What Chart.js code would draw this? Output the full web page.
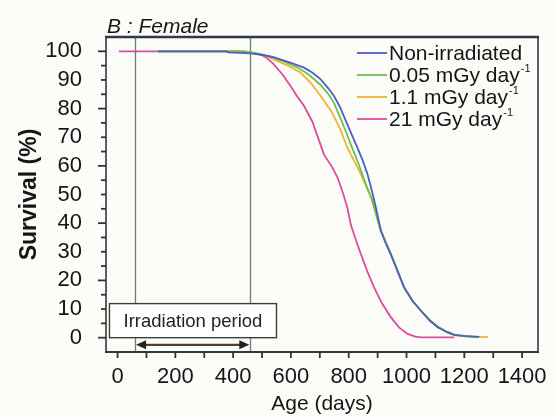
<!DOCTYPE html>
<html>
<head>
<meta charset="utf-8">
<script src="https://cdn.jsdelivr.net/npm/chart.js@4/dist/chart.umd.min.js"></script>
<style>
  html, body { margin: 0; padding: 0; background: #fcfdf9; }
  #wrap { width: 555px; height: 417px; }
</style>
</head>
<body>
<div id="wrap"><canvas id="SurvivalBox"></canvas></div>
<script>
// survival (%) against age (days)
const nonIrradiated = [[140,100],[378,100],[382,99.6],[460,99.3],[500,98.8],[540,98],[563,97.2],[600,96],[645,94.3],[675,92.5],[703,90.2],[730,87],[749,84.4],[770,80.5],[790,75.7],[810,71],[830,66.4],[848,62],[865,57.1],[882,50.5],[895,45],[911,37.5],[928,33],[946,29],[970,23],[992,17.5],[1020,13],[1050,9.4],[1080,6],[1109,3.6],[1140,2],[1166,1],[1200,0.6],[1252,0.3]];
const low005 = [[140,100],[440,100],[470,99.5],[500,98.8],[540,97.8],[580,96.3],[620,94.5],[660,92],[700,88.5],[730,85],[749,82],[772,76.5],[790,72],[807,67.5],[833,61],[859,53.6],[882,48],[900,41],[911,37.3],[946,29.2],[970,23.2],[992,17.5],[1020,13],[1050,9.4],[1080,6.2],[1109,3.8],[1140,2],[1166,1],[1210,0.4],[1250,0.2]];
const mid11 = [[140,100],[440,100],[470,99.3],[510,98.5],[540,97.2],[590,95],[633,92.6],[670,88.8],[703,84.4],[740,79],[770,73],[795,66.4],[820,61.5],[842,57.1],[877,49],[895,43],[911,37.3],[946,29.2],[970,23],[992,17.5],[1020,12.8],[1050,9.4],[1080,6],[1109,3.6],[1140,1.8],[1166,0.8],[1230,0.4],[1282,0.2]];
const high21 = [[5,100],[420,100],[460,99.5],[494,99],[515,97.8],[540,95.5],[570,92],[598,88],[620,84.5],[645,81],[674,75.5],[695,69.5],[714,64],[740,60],[761,56],[780,50.5],[795,45.5],[807,39.5],[825,34],[842,29.2],[865,23],[888,17.5],[915,12],[946,7.1],[975,3.5],[1004,1.3],[1030,0.4],[1050,0.1],[1165,0.1]];

const seriesLabels = ['Non-irradiated', '0.05 mGy day⁻¹', '1.1 mGy day⁻¹', '21 mGy day⁻¹'];
const seriesColors = ['#4b5fc4', '#6cc04c', '#f2b233', '#d94c9e'];

const xTicks = [0,100,200,300,400,500,600,700,800,900,1000,1100,1200,1300,1400];
const xLabels = [0,200,400,600,800,1000,1200,1400];
const yTicks = [0,5,10,15,20,25,30,35,40,45,50,55,60,65,70,75,80,85,90,95,100];
const yLabels = [0,10,20,30,40,50,60,70,80,90,100];
const irradiationPeriod = [60, 460];

const FONT = '"Liberation Sans", Arial, sans-serif';
const toPoints = arr => arr.map(p => ({x: p[0], y: p[1]}));

const SurvivalData = {
    datasets: [nonIrradiated, low005, mid11, high21].map((d, i) => ({
        label: seriesLabels[i],
        data: toPoints(d),
        borderColor: seriesColors[i],
        backgroundColor: seriesColors[i],
        borderWidth: 1.8,
        pointRadius: 0,
        tension: 0
    }))
};

// frame, tick marks, irradiation marks, legend and panel title
const decorations = {
    id: 'decorations',
    beforeDatasetsDraw(chart) {
        const {ctx, chartArea: a, scales: {x}} = chart;
        ctx.save();
        ctx.strokeStyle = '#6e7d68';
        ctx.lineWidth = 1.3;
        irradiationPeriod.forEach(d => {
            const px = Math.round(x.getPixelForValue(d)) + 0.5;
            ctx.beginPath(); ctx.moveTo(px, a.top); ctx.lineTo(px, a.bottom); ctx.stroke();
        });
        ctx.restore();
    },
    afterDraw(chart) {
        const {ctx, chartArea: a, scales: {x, y}} = chart;
        ctx.save();
        // frame
        ctx.strokeStyle = '#2f3b3f';
        ctx.lineWidth = 1.6;
        ctx.strokeRect(a.left, a.top, a.right - a.left, a.bottom - a.top);
        ctx.strokeStyle = '#2c3a4c';
        ctx.lineWidth = 2.6;
        ctx.beginPath(); ctx.moveTo(a.left - 1, a.top); ctx.lineTo(a.right + 1, a.top); ctx.stroke();
        ctx.lineWidth = 2;
        ctx.beginPath(); ctx.moveTo(a.left - 1, a.bottom); ctx.lineTo(a.right + 1, a.bottom); ctx.stroke();

        // tick marks
        ctx.strokeStyle = '#333';
        ctx.lineWidth = 1.8;
        yTicks.forEach(v => {
            const py = y.getPixelForValue(v);
            const len = v % 20 === 0 ? 8 : 5;
            ctx.beginPath(); ctx.moveTo(a.left - len, py); ctx.lineTo(a.left, py); ctx.stroke();
        });
        xTicks.forEach(v => {
            const px = x.getPixelForValue(v);
            ctx.beginPath(); ctx.moveTo(px, a.bottom); ctx.lineTo(px, a.bottom + 6); ctx.stroke();
        });

        // irradiation period box
        const bx0 = x.getPixelForValue(-28), bx1 = x.getPixelForValue(550);
        const by0 = y.getPixelForValue(11.9), by1 = y.getPixelForValue(0);
        ctx.fillStyle = '#ffffff';
        ctx.fillRect(bx0, by0, bx1 - bx0, by1 - by0);
        ctx.strokeStyle = '#3a3f38';
        ctx.lineWidth = 1.4;
        ctx.strokeRect(bx0, by0, bx1 - bx0, by1 - by0);
        ctx.fillStyle = '#222';
        ctx.font = '18.5px ' + FONT;
        ctx.textAlign = 'center';
        ctx.textBaseline = 'middle';
        ctx.fillText('Irradiation period', (bx0 + bx1) / 2, (by0 + by1) / 2 + 1);

        // double arrow
        const ay = y.getPixelForValue(-2.5);
        const ax0 = x.getPixelForValue(irradiationPeriod[0] + 4), ax1 = x.getPixelForValue(irradiationPeriod[1] - 4);
        ctx.strokeStyle = '#4a4030';
        ctx.lineWidth = 2.2;
        ctx.beginPath(); ctx.moveTo(ax0 + 6, ay); ctx.lineTo(ax1 - 6, ay); ctx.stroke();
        ctx.fillStyle = '#222';
        ctx.beginPath(); ctx.moveTo(ax0, ay); ctx.lineTo(ax0 + 10, ay - 4.5); ctx.lineTo(ax0 + 10, ay + 4.5); ctx.closePath(); ctx.fill();
        ctx.beginPath(); ctx.moveTo(ax1, ay); ctx.lineTo(ax1 - 10, ay - 4.5); ctx.lineTo(ax1 - 10, ay + 4.5); ctx.closePath(); ctx.fill();

        // legend
        ctx.textAlign = 'left';
        ctx.textBaseline = 'middle';
        chart.data.datasets.forEach((ds, i) => {
            const ly = 53 + i * 22;
            ctx.strokeStyle = ds.borderColor;
            ctx.lineWidth = 1.8;
            ctx.beginPath(); ctx.moveTo(357, ly); ctx.lineTo(387, ly); ctx.stroke();
            let base = ds.label, sup = '';
            if (base.endsWith('⁻¹')) { base = base.slice(0, -2); sup = '-1'; }
            ctx.fillStyle = '#151515';
            ctx.font = '21px ' + FONT;
            ctx.fillText(base, 389, ly + 1);
            if (sup) {
                const w = ctx.measureText(base).width;
                ctx.font = '11px ' + FONT;
                ctx.fillText(sup, 389 + w + 1, ly - 6);
            }
        });

        // panel title
        ctx.fillStyle = '#151515';
        ctx.font = 'italic 21px ' + FONT;
        ctx.textBaseline = 'alphabetic';
        ctx.fillText('B : Female', a.left + 1, a.top - 4);
        ctx.restore();
    }
};

const SurvivalConfig = {
    type: 'line',
    data: SurvivalData,
    options: {
        responsive: true,
        maintainAspectRatio: false,
        animation: false,
        layout: { padding: { top: 37, right: 17, left: 0, bottom: 0 } },
        scales: {
            x: {
                type: 'linear',
                min: -40,
                max: 1455,
                afterBuildTicks: s => { s.ticks = xTicks.map(v => ({value: v})); },
                afterFit: s => { s.height = 65; },
                grid: { color: 'rgba(0,0,0,0)', drawOnChartArea: false, tickLength: 6 },
                border: { display: false },
                ticks: {
                    autoSkip: false,
                    maxRotation: 0,
                    padding: 6,
                    color: '#151515',
                    font: { family: FONT, size: 22 },
                    callback: v => xLabels.includes(v) ? String(v) : ''
                },
                title: {
                    display: true,
                    text: 'Age (days)',
                    color: '#151515',
                    padding: { top: 0, bottom: 0 },
                    font: { family: FONT, size: 21 }
                }
            },
            y: {
                min: -5,
                max: 105,
                afterBuildTicks: s => { s.ticks = yTicks.map(v => ({value: v})); },
                afterFit: s => { s.width = 106; },
                grid: { color: 'rgba(0,0,0,0)', drawOnChartArea: false, tickLength: 8 },
                border: { display: false },
                ticks: {
                    autoSkip: false,
                    padding: 16,
                    color: '#151515',
                    font: { family: FONT, size: 22 },
                    callback: v => yLabels.includes(v) ? String(v) : ''
                },
                title: {
                    display: true,
                    text: 'Survival (%)',
                    color: '#151515',
                    padding: { top: 16, bottom: 0 },
                    font: { family: FONT, size: 23, weight: 'bold' }
                }
            }
        },
        plugins: {
            legend: { display: false },
            tooltip: { enabled: false }
        }
    },
    plugins: [decorations]
};

window.onload = function() {
    const ctx = document.getElementById('SurvivalBox').getContext('2d');
    new Chart(ctx, SurvivalConfig);
};
</script>
</body>
</html>
